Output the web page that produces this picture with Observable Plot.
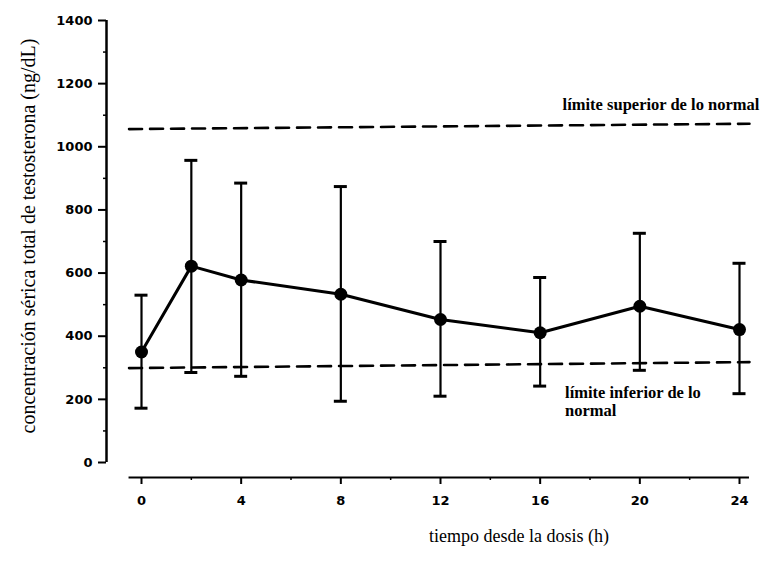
<!DOCTYPE html>
<html><head><meta charset="utf-8">
<script src="https://cdn.jsdelivr.net/npm/d3@7"></script>
<script src="https://cdn.jsdelivr.net/npm/@observablehq/plot@0.6"></script>
<style>body{margin:0;background:#fff}</style>
</head><body><div id="chart"></div>
<script>
// Data
const hours = [0, 2, 4, 8, 12, 16, 20, 24];
const meanT = [350, 622, 578, 533, 453, 411, 495, 421];
const upperT = [530, 957, 885, 874, 700, 586, 726, 631];
const lowerT = [172, 285, 273, 194, 210, 242, 292, 218];
const xTicks = [0, 4, 8, 12, 16, 20, 24];
const xMinorTicks = [2, 6, 10, 14, 18, 22];
const yTicks = [0, 200, 400, 600, 800, 1000, 1200, 1400];
const yMinorTicks = [100, 300, 500, 700, 900, 1100, 1300];
const limitX = [-0.5, 24.4];
const lowerLimit = [299, 318];
const upperLimit = [1056, 1073];
const yTitle = "concentración sérica total de testosterona (ng/dL)";
const xTitle = "tiempo desde la dosis (h)";
const upperLabel = "límite superior de lo normal";
const lowerLabel = "límite inferior de lo\nnormal";

const rows = hours.map((t, i) => ({t, mean: meanT[i], hi: upperT[i], lo: lowerT[i]}));
const lowRows = limitX.map((x, i) => ({x, y: lowerLimit[i]}));
const upRows = limitX.map((x, i) => ({x, y: upperLimit[i]}));

const serif = "'Liberation Serif', 'Times New Roman', serif";
const sans = "'DejaVu Sans', sans-serif";

const chart = Plot.plot({
  width: 765, height: 563,
  marginLeft: 106, marginRight: 20, marginTop: 20, marginBottom: 86,
  x: {domain: [0, 24], range: [141, 739]},
  y: {domain: [0, 1400], range: [462, 20]},
  style: {background: "white", color: "black"},
  marks: [
    // y axis line
    Plot.ruleX([0], {y1: 0, y2: 1400, dx: -35, strokeWidth: 2.5}),
    // x axis line
    Plot.ruleY([0], {x1: limitX[0], x2: limitX[1], dy: 15, strokeWidth: 2}),
    Plot.axisY(yTicks, {anchor: "left", tickSize: 8, tickPadding: 6, strokeWidth: 2,
      tickFormat: d => String(d), label: null, fontSize: 13, fontWeight: "bold", fontFamily: sans}),
    Plot.axisY(yMinorTicks, {anchor: "left", tickSize: 3, strokeWidth: 1.5, tickFormat: () => "", label: null}),
    Plot.axisX(xTicks, {anchor: "bottom", tickSize: 7, tickPadding: 11, strokeWidth: 2,
      tickFormat: d => String(d), label: null, fontSize: 13, fontWeight: "bold", fontFamily: sans}),
    Plot.axisX(xMinorTicks, {anchor: "bottom", tickSize: 3, strokeWidth: 1.5, tickFormat: () => "", label: null}),
    // normal limits
    Plot.line(lowRows, {x: "x", y: "y", strokeWidth: 2.6, strokeDasharray: "13,8"}),
    Plot.line(upRows, {x: "x", y: "y", strokeWidth: 2.6, strokeDasharray: "13,8"}),
    // error bars
    Plot.ruleX(rows, {x: "t", y1: "lo", y2: "hi", strokeWidth: 2.2}),
    Plot.ruleY(rows, {x1: "t", x2: "t", y: "hi", insetLeft: -6.5, insetRight: -6.5, strokeWidth: 3}),
    Plot.ruleY(rows, {x1: "t", x2: "t", y: "lo", insetLeft: -6.5, insetRight: -6.5, strokeWidth: 3}),
    // mean line and points
    Plot.line(rows, {x: "t", y: "mean", strokeWidth: 3}),
    Plot.dot(rows, {x: "t", y: "mean", r: 6.5, fill: "black", stroke: "none"}),
    // annotations
    Plot.text([upperLabel], {x: 16.9, y: 1133, text: d => d, textAnchor: "start",
      fontSize: 16.5, fontWeight: "bold", fontFamily: serif}),
    Plot.text([lowerLabel], {x: 17.0, y: 222, text: d => d, textAnchor: "start", lineAnchor: "middle",
      lineHeight: 1.1, fontSize: 16.5, fontWeight: "bold", fontFamily: serif, dy: 9}),
    // axis titles
    Plot.text([yTitle], {frameAnchor: "left", rotate: -90, dx: -78, dy: -13, textAnchor: "middle",
      text: d => d, fontSize: 20, fontFamily: serif, letterSpacing: 1.3}),
    Plot.text([xTitle], {frameAnchor: "bottom", dx: 93, dy: 64, textAnchor: "middle",
      text: d => d, fontSize: 18, fontFamily: serif, letterSpacing: 0.4})
  ]
});
document.getElementById("chart").appendChild(chart);
</script>
</body></html>
